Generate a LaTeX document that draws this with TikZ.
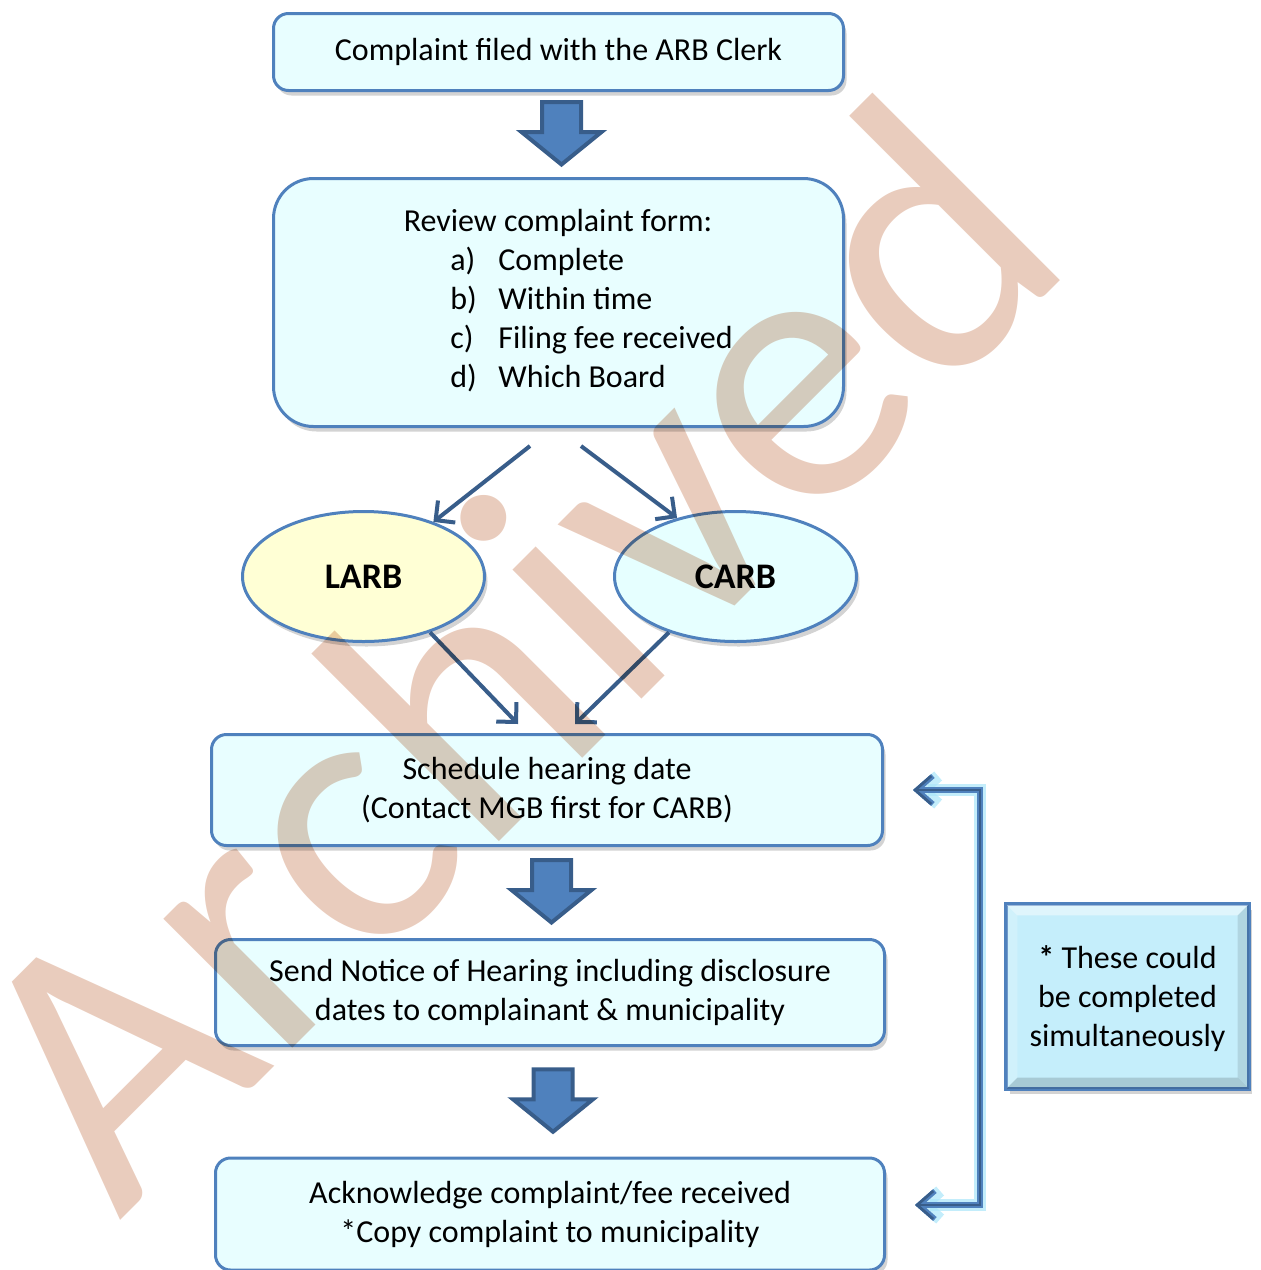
\documentclass[tikz,border=0pt]{standalone}
\usepackage{fontspec}
\setmainfont{Carlito}
\usetikzlibrary{shapes.geometric,arrows.meta,calc,shadows,positioning}

\definecolor{boxfill}{RGB}{232,254,255}
\definecolor{boxline}{RGB}{79,129,189}
\definecolor{arrowdark}{RGB}{56,93,138}
\definecolor{larbfill}{RGB}{255,255,213}
\definecolor{carbfill}{RGB}{230,255,255}
\definecolor{notefill}{RGB}{197,238,251}
\definecolor{stampcol}{RGB}{233,204,189}
\definecolor{glowcol}{RGB}{170,230,250}

\begin{document}
\begin{tikzpicture}[x=0.5pt, y=-0.5pt,
    txt/.style={font=\fontsize{16}{19.5}\selectfont, inner sep=0pt},
    stepbox/.style={draw=boxline, line width=1.5pt, fill=boxfill, rounded corners=7.5pt,
        align=center, font=\fontsize{16}{19.5}\selectfont,
        drop shadow={opacity=0.35, shadow xshift=1.5pt, shadow yshift=-2.5pt}},
    board/.style={ellipse, draw=boxline, line width=1.5pt, minimum width=121pt, minimum height=65pt,
        font=\fontsize{18}{20}\selectfont\bfseries,
        drop shadow={opacity=0.35, shadow xshift=1.5pt, shadow yshift=-2.5pt}},
    flow/.style={draw=arrowdark, line width=2pt, -{Straight Barb[length=7pt,width=14pt]}},
    blockarrow/.style={fill=boxline, draw=arrowdark, line width=2pt, line join=miter},
    pics/blockdown/.style={code={
        \draw[blockarrow] (-19.5,-31.5) -- (19.5,-31.5) -- (19.5,-1.5) -- (40,-1.5)
            -- (0,31) -- (-40,-1.5) -- (-19.5,-1.5) -- cycle;
    }}]
    \useasboundingbox (0,0) rectangle (1261,1270);

    % Steps
    \node[stepbox, minimum width=285pt, minimum height=38.5pt] (filed) at (558.5,52)
        {Complaint filed with the ARB Clerk};
    \node[stepbox, rounded corners=20pt, minimum width=285pt, minimum height=124pt] (review) at (558.5,302.5) {};
    \node[stepbox, minimum width=335.5pt, minimum height=55.5pt] (schedule) at (547,790)
        {Schedule hearing date\\(Contact MGB first for CARB)};
    \node[stepbox, minimum width=334.5pt, minimum height=53pt] (notice) at (550,992.5)
        {Send Notice of Hearing including disclosure\\dates to complainant \& municipality};
    \node[stepbox, minimum width=334.5pt, minimum height=56pt] (ack) at (550,1214)
        {Acknowledge complaint/fee received\\*Copy complaint to municipality};

    % Review list
    \node[txt, anchor=base] (rtitle) at (558,231) {Review complaint form:};
    \foreach \lbl/\what [count=\i] in {a/Complete, b/Within time, c/Filing fee received, d/Which Board}{
        \node[txt, anchor=base west] (lbl\i) at (450,231+39*\i) {\lbl)};
        \node[txt, anchor=base west] (what\i) at (498,231+39*\i) {\what};
    }

    % Boards
    \node[board, fill=larbfill] (larb) at (363.5,576.5) {LARB};
    \node[board, fill=carbfill] (carb) at (735.5,576.5) {CARB};

    % Block arrows
    \foreach \a/\b in {filed/review, schedule/notice, notice/ack}{
        \path (\a.south) -- (\b.north) coordinate[midway] (mid-\a);
        \pic at ($(mid-\a)+(3,-1)$) {blockdown};
    }

    % Thin arrows
    \draw[flow] ($(review.south)+(-28.5,18)$) -- (larb.38);
    \draw[flow] ($(review.south)+(22.5,18)$) -- (carb.135);
    \draw[flow] (larb.-40) -- ($(schedule.north)+(-29,-9)$);
    \draw[flow] (carb.-140) -- ($(schedule.north)+(28,-9)$);

    % Note
    \node[draw=boxline, line width=1.2pt, fill=notefill, minimum width=121pt, minimum height=92pt,
        align=center, font=\fontsize{16}{19.5}\selectfont,
        drop shadow={opacity=0.35, shadow xshift=1.5pt, shadow yshift=-2.5pt}] (note) at (1127.5,996.5) {};
    \coordinate (nwi) at ($(note.north west)+(12,12)$);
    \coordinate (nei) at ($(note.north east)+(-12,12)$);
    \coordinate (sei) at ($(note.south east)+(-12,-12)$);
    \coordinate (swi) at ($(note.south west)+(12,-12)$);
    \fill[white, opacity=0.45] (note.north west) -- (note.north east) -- (nei) -- (nwi) -- cycle;
    \fill[white, opacity=0.2] (note.north west) -- (nwi) -- (swi) -- (note.south west) -- cycle;
    \fill[black, opacity=0.1] (note.north east) -- (note.south east) -- (sei) -- (nei) -- cycle;
    \fill[black, opacity=0.15] (note.south west) -- (swi) -- (sei) -- (note.south east) -- cycle;
    \draw[boxline, line width=1.2pt] (note.north west) rectangle (note.south east);
    \node[align=center, font=\fontsize{16}{19.5}\selectfont] (notetext) at ($(note.center)+(0,2)$)
        {\textbf{*} These could\\be completed\\simultaneously};

    % Bracket
    \coordinate (bk1) at (980,790);
    \coordinate (bk2) at (980,1205);
    \draw[glowcol, opacity=0.7, line width=6pt, line join=miter, {Straight Barb[length=8pt,width=14pt]}-{Straight Barb[length=8pt,width=14pt]}]
        ($(schedule.east)+(29,0)$) -- (bk1) -- (bk2) -- ($(ack.east)+(29,-9)$);
    \draw[boxline, line width=2.6pt, line join=miter, {Straight Barb[length=8pt,width=14pt]}-{Straight Barb[length=8pt,width=14pt]}]
        ($(schedule.east)+(29,0)$) -- (bk1) -- (bk2) -- ($(ack.east)+(29,-9)$);
    \draw[arrowdark, line width=1.4pt, line join=miter, {Straight Barb[length=8pt,width=14pt]}-{Straight Barb[length=8pt,width=14pt]}]
        ($(schedule.east)+(29,0)$) -- (bk1) -- (bk2) -- ($(ack.east)+(29,-9)$);

    % Watermark
    \begin{scope}[blend mode=multiply]
        \node[rotate=45, anchor=base west, text=stampcol, font=\fontsize{191}{191}\selectfont, inner sep=0pt]
            (stamp) at (119,1222) {Archived};
    \end{scope}
\end{tikzpicture}
\end{document}
